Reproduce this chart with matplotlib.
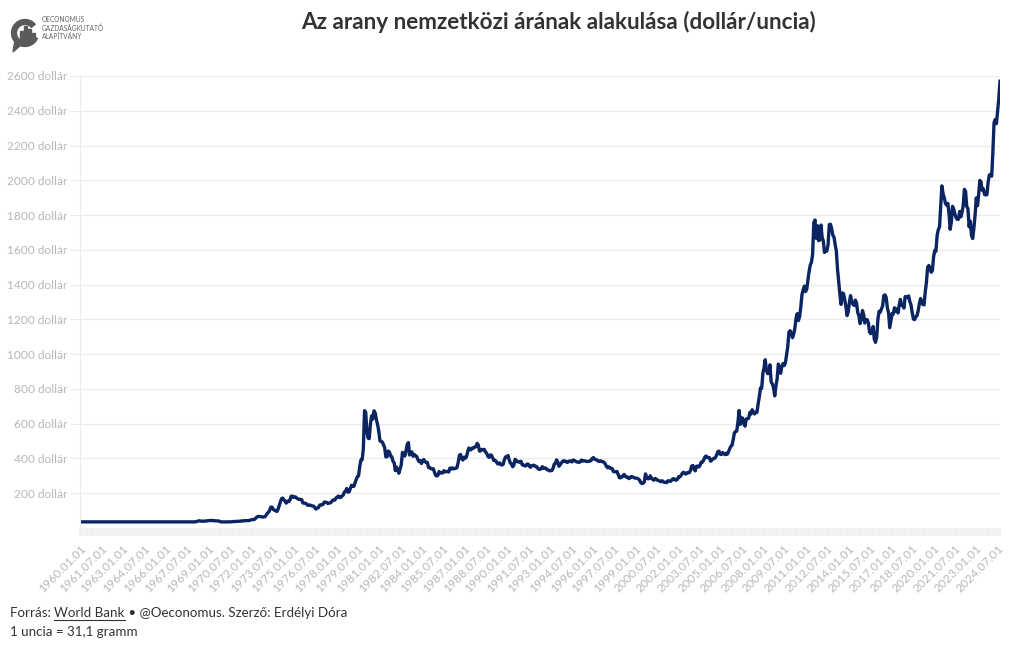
import matplotlib
matplotlib.use("Agg")
import matplotlib.pyplot as plt
import matplotlib.dates as mdates
from matplotlib.patches import Arc, Rectangle, Polygon
from matplotlib.ticker import FixedLocator
import pandas as pd

plt.rcParams['font.family'] = ['Lato', 'DejaVu Sans']

# --- data: monthly gold price (USD / troy ounce), World Bank ---
start_month = "1960-01"
prices = [
    # 1960-1967
    35.27, 35.27, 35.27, 35.27, 35.27, 35.27, 35.27, 35.27, 35.27, 35.27, 35.27, 35.27,
    35.25, 35.25, 35.25, 35.25, 35.25, 35.25, 35.25, 35.25, 35.25, 35.25, 35.25, 35.25,
    35.23, 35.23, 35.23, 35.23, 35.23, 35.23, 35.23, 35.23, 35.23, 35.23, 35.23, 35.23,
    35.09, 35.09, 35.09, 35.09, 35.09, 35.09, 35.09, 35.09, 35.09, 35.09, 35.09, 35.09,
    35.10, 35.10, 35.10, 35.10, 35.10, 35.10, 35.10, 35.10, 35.10, 35.10, 35.10, 35.10,
    35.12, 35.12, 35.12, 35.12, 35.12, 35.12, 35.12, 35.12, 35.12, 35.12, 35.12, 35.12,
    35.13, 35.13, 35.13, 35.13, 35.13, 35.13, 35.13, 35.13, 35.13, 35.13, 35.13, 35.13,
    35.19, 35.19, 35.19, 35.19, 35.19, 35.19, 35.19, 35.19, 35.19, 35.19, 35.19, 35.19,
    # 1968-1979
    35.2, 35.2, 36.6, 38.0, 41.0, 41.0, 39.5, 39.2, 39.6, 39.3, 39.9, 41.1,
    42.3, 42.6, 43.3, 43.4, 43.6, 41.3, 41.8, 41.0, 40.9, 40.4, 37.4, 35.2,
    34.9, 34.9, 35.1, 35.6, 35.9, 35.3, 35.3, 35.4, 36.2, 37.5, 37.4, 37.4,
    37.9, 38.7, 38.9, 39.0, 40.5, 40.1, 41.0, 42.8, 42.0, 42.5, 42.9, 43.5,
    45.8, 48.3, 48.3, 49.0, 54.6, 62.1, 65.7, 67.0, 65.5, 64.9, 62.9, 63.9,
    65.1, 74.2, 84.4, 90.5, 102.0, 120.1, 120.2, 106.8, 102.0, 100.1, 94.8, 106.7,
    129.0, 150.2, 168.4, 172.2, 163.2, 154.1, 143.0, 154.6, 151.8, 158.8, 181.7, 183.9,
    176.1, 179.6, 178.2, 169.9, 167.4, 164.1, 165.1, 163.3, 144.1, 142.7, 142.4, 139.3,
    131.0, 130.6, 132.6, 128.4, 127.0, 125.9, 117.8, 109.3, 114.3, 116.0, 130.3, 133.9,
    132.3, 136.3, 148.3, 149.3, 146.6, 140.9, 143.3, 144.1, 149.4, 158.6, 162.1, 160.5,
    173.4, 178.2, 183.7, 175.4, 176.3, 183.8, 188.6, 206.5, 212.0, 227.3, 206.1, 207.8,
    227.3, 245.7, 242.1, 239.2, 257.6, 279.1, 294.4, 300.6, 355.1, 391.7, 392.5, 455.1,
    # 1980-1989
    675, 665, 554, 517, 514, 600, 645, 627, 674, 662, 623, 595,
    557, 500, 498, 495, 480, 461, 409, 410, 443, 437, 413, 410,
    384, 374, 330, 350, 334, 315, 339, 364, 435, 422, 414, 444,
    481, 491, 420, 432, 438, 413, 423, 416, 412, 394, 382, 388,
    371, 386, 394, 382, 377, 378, 347, 348, 341, 340, 341, 320,
    303, 299, 304, 325, 316, 317, 317, 330, 323, 325, 325, 322,
    345, 339, 346, 340, 342, 343, 348, 376, 418, 423, 398, 391,
    408, 401, 409, 438, 460, 450, 451, 461, 460, 465, 468, 487,
    477, 442, 444, 452, 451, 452, 437, 431, 413, 406, 420, 419,
    404, 388, 390, 384, 371, 368, 375, 365, 362, 367, 394, 409,
    # 1990-1999
    410, 417, 393, 374, 369, 352, 362, 395, 389, 381, 381, 378,
    384, 363, 363, 358, 357, 367, 368, 356, 349, 359, 360, 361,
    354, 354, 345, 338, 337, 341, 353, 343, 345, 344, 335, 334,
    329, 330, 330, 342, 367, 372, 392, 379, 355, 364, 374, 383,
    387, 382, 384, 377, 381, 386, 385, 380, 391, 389, 384, 380,
    379, 377, 382, 391, 385, 387, 386, 383, 383, 383, 386, 387,
    400, 405, 396, 393, 392, 385, 383, 387, 383, 381, 378, 369,
    355, 347, 352, 344, 344, 341, 324, 324, 323, 325, 306, 289,
    289, 297, 296, 308, 299, 292, 293, 284, 289, 296, 294, 291,
    287, 287, 286, 282, 276, 261, 256, 257, 265, 311, 293, 283,
    # 2000-2009
    284, 300, 286, 280, 275, 285, 282, 275, 273, 270, 266, 272,
    266, 262, 263, 261, 272, 270, 268, 273, 283, 283, 276, 275,
    282, 296, 294, 302, 314, 321, 314, 310, 319, 317, 319, 333,
    357, 359, 340, 329, 355, 356, 351, 360, 379, 379, 389, 407,
    414, 405, 406, 404, 384, 392, 398, 400, 406, 420, 439, 442,
    424, 423, 434, 429, 422, 430, 424, 438, 456, 470, 476, 510,
    549, 555, 557, 610, 676, 596, 633, 632, 598, 586, 627, 629,
    631, 665, 655, 680, 668, 656, 665, 665, 713, 754, 806, 803,
    889, 923, 968, 909, 888, 890, 939, 839, 829, 806, 760, 816,
    858, 943, 925, 890, 928, 946, 934, 949, 996, 1043, 1127, 1135,
    # 2010-2019
    1118, 1095, 1114, 1148, 1205, 1233, 1193, 1215, 1271, 1343, 1370, 1391,
    1360, 1374, 1424, 1474, 1512, 1529, 1573, 1757, 1772, 1666, 1739, 1653,
    1656, 1743, 1674, 1650, 1585, 1596, 1594, 1630, 1745, 1747, 1722, 1685,
    1672, 1627, 1593, 1487, 1414, 1343, 1286, 1352, 1348, 1316, 1275, 1222,
    1244, 1300, 1337, 1299, 1287, 1280, 1311, 1296, 1239, 1222, 1176, 1201,
    1251, 1227, 1179, 1198, 1199, 1181, 1128, 1118, 1125, 1159, 1086, 1068,
    1097, 1200, 1246, 1242, 1260, 1276, 1337, 1341, 1326, 1267, 1238, 1152,
    1192, 1234, 1231, 1267, 1246, 1260, 1237, 1283, 1315, 1280, 1283, 1265,
    1331, 1331, 1325, 1335, 1303, 1282, 1238, 1202, 1199, 1215, 1221, 1250,
    1291, 1320, 1300, 1285, 1284, 1359, 1413, 1500, 1510, 1495, 1471, 1480,
    # 2020-2024
    1560, 1597, 1592, 1683, 1716, 1732, 1846, 1968, 1921, 1900, 1866, 1858,
    1867, 1808, 1718, 1760, 1850, 1834, 1807, 1785, 1775, 1777, 1821, 1790,
    1817, 1856, 1948, 1937, 1849, 1837, 1733, 1765, 1681, 1665, 1726, 1798,
    1899, 1854, 1912, 1999, 1992, 1943, 1951, 1918, 1916, 1917, 1989, 2030,
    2034, 2024, 2159, 2331, 2350, 2326, 2399, 2470, 2570,
]
y_ticks = [200, 400, 600, 800, 1000, 1200, 1400, 1600, 1800, 2000, 2200, 2400, 2600]

dates = pd.date_range(start_month, periods=len(prices), freq="MS")
tick_dates = pd.date_range("1960-01-01", "2024-07-01", freq="18MS")

LINE = "#0a2561"
GRID = "#ebebeb"
TICKC = "#b8b8b8"

fig = plt.figure(figsize=(10.2, 6.5), dpi=100)
ax = fig.add_axes([80 / 1020, 1 - 528 / 650, 920 / 1020, (528 - 76) / 650])

ax.plot(dates, prices, color=LINE, lw=2.4, solid_joinstyle="round")

ax.set_xlim(dates[0], dates[-1])
ax.set_ylim(0, 2600)

ax.yaxis.set_major_locator(FixedLocator(y_ticks))
ax.set_yticklabels([f"{v} dollár" for v in y_ticks])
ax.grid(axis="y", color=GRID, lw=0.9)
ax.set_axisbelow(True)

ax.set_xticks(tick_dates)
ax.set_xticklabels([d.strftime("%Y.%m.%d") for d in tick_dates],
                   rotation=45, ha="right", rotation_mode="anchor")
ax.xaxis.set_minor_locator(FixedLocator(mdates.date2num(dates)))
ax.tick_params(axis="x", which="both", length=6, color="#f1f1f1", width=1.2,
               labelsize=8.7, labelcolor=TICKC, pad=5)
ax.tick_params(axis="y", length=7, color=GRID, labelsize=8.6, labelcolor=TICKC, pad=2)

for s in ["top", "right", "bottom"]:
    ax.spines[s].set_visible(False)
ax.spines["left"].set_color(GRID)

fig.text(0.548, 0.966, "Az arany nemzetközi árának alakulása (dollár/uncia)",
         ha="center", va="center", fontsize=16.2, fontweight="bold", color="#333333")

# logo: C-shaped ring with bars, plus small text
px = fig.transFigure
def fx(x): return x / 1020
def fy(y): return 1 - y / 650
fig.patches.append(Arc((fx(25), fy(33)), fx(22), 22 / 650, theta1=50, theta2=330,
                       transform=px, lw=4.5, color="#5a5a5a"))
fig.patches.append(Polygon([(fx(15), fy(40)), (fx(13), fy(52)), (fx(22), fy(44))],
                           closed=True, transform=px, color="#5a5a5a"))
for bx, bh in [(20, 10), (24, 15), (28, 12), (32, 8)]:
    fig.patches.append(Rectangle((fx(bx), fy(41)), fx(3), bh / 650,
                                 transform=px, color="#5a5a5a"))
fig.text(fx(42), fy(28), "OECONOMUS\nGAZDASÁGKUTATÓ\nALAPÍTVÁNY",
         ha="left", va="center", fontsize=4.8, color="#666666", linespacing=1.2)

t = fig.text(fx(10), fy(613), "Forrás: ", ha="left", va="center",
             fontsize=9.6, color="#333333")
fig.canvas.draw()
bb = t.get_window_extent()
t2 = fig.text(bb.x1 / 1020, fy(613), "World Bank", ha="left", va="center",
              fontsize=9.6, color="#333333")
fig.canvas.draw()
bb2 = t2.get_window_extent()
fig.add_artist(plt.Line2D([bb2.x0 / 1020, bb2.x1 / 1020], [fy(620), fy(620)],
                          color="#333333", lw=0.8))
fig.text(bb2.x1 / 1020, fy(613), " • @Oeconomus. Szerző: Erdélyi Dóra",
         ha="left", va="center", fontsize=9.6, color="#333333")
fig.text(fx(10), fy(632), "1 uncia = 31,1 gramm",
         ha="left", va="center", fontsize=9.6, color="#333333")

fig.savefig("out.png", dpi=100)
